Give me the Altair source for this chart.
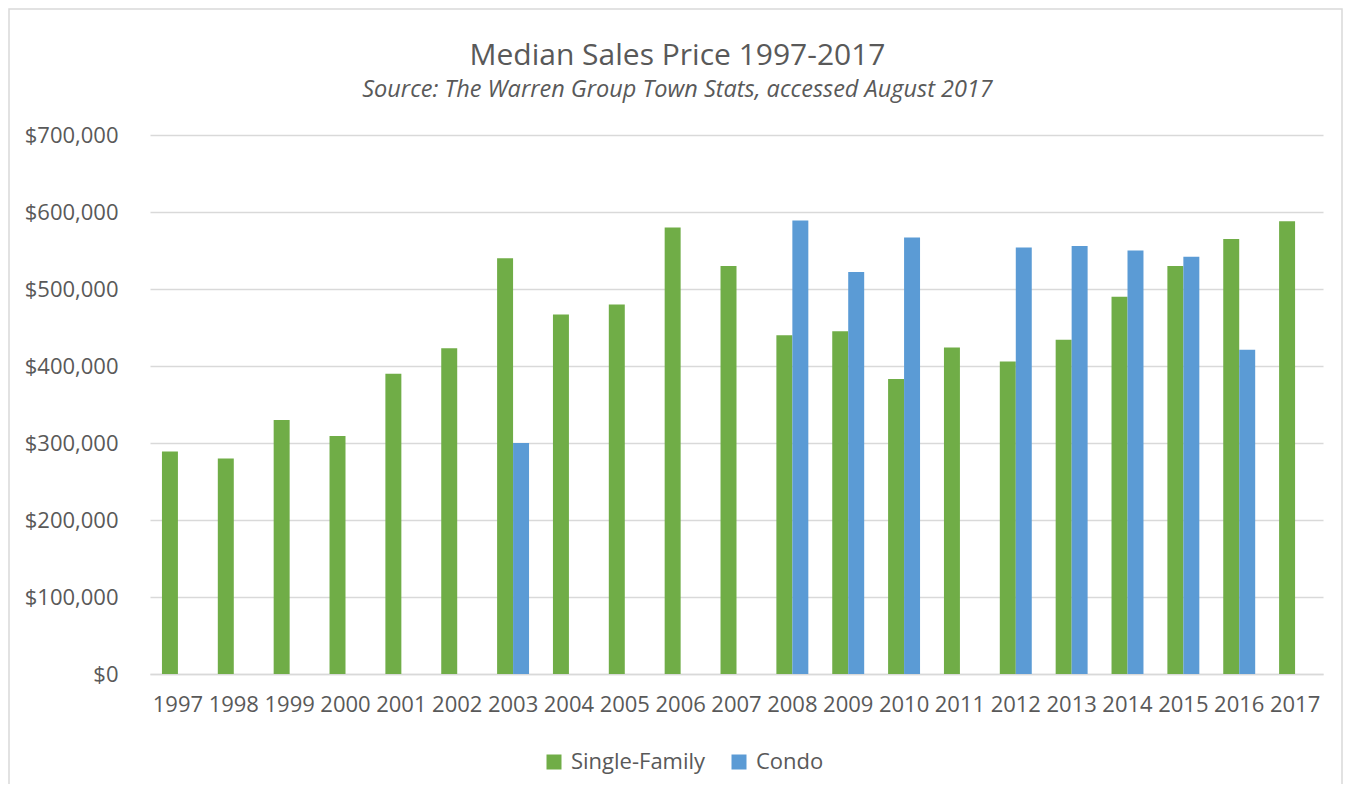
import altair as alt
import pandas as pd

years = [str(y) for y in range(1997, 2018)]
single_family = [289000, 280000, 330000, 309000, 390000, 423000, 540000, 467000,
                 480000, 580000, 530000, 440000, 445000, 383000, 424000, 406000,
                 434000, 490000, 530000, 565000, 588000]
condo = [None, None, None, None, None, None, 300000, None, None, None, None,
         589000, 522000, 567000, None, 554000, 556000, 550000, 542000, 421000, None]
series = ["Single-Family", "Condo"]
colors = ["#70AD47", "#5B9BD5"]
y_ticks = [0, 100000, 200000, 300000, 400000, 500000, 600000, 700000]

rows = []
for yr, sf, cd in zip(years, single_family, condo):
    if sf is not None:
        rows.append({"Year": yr, "Series": "Single-Family", "Price": sf})
    if cd is not None:
        rows.append({"Year": yr, "Series": "Condo", "Price": cd})
df = pd.DataFrame(rows)

W, H = 1173, 539
TXT = "#595959"
FONT = "Open Sans"

bars = alt.Chart(df).mark_bar(strokeWidth=0).encode(
    x=alt.X("Year:N", sort=years,
            scale=alt.Scale(domain=years, paddingInner=0.428, paddingOuter=0.214),
            axis=alt.Axis(title=None, labelAngle=0, ticks=False, domainColor="#D9D9D9",
                          domainWidth=1.5, labelPadding=20, labelFontSize=22,
                          labelColor=TXT, labelFont=FONT)),
    xOffset=alt.XOffset("Series:N", sort=series,
                        scale=alt.Scale(domain=series, paddingInner=0, paddingOuter=0)),
    y=alt.Y("Price:Q", scale=alt.Scale(domain=[0, 700000], nice=False),
            axis=alt.Axis(title=None, values=y_ticks, format="$,.0f", grid=True,
                          gridColor="#D9D9D9", gridWidth=1.5, domain=False, ticks=False,
                          labelPadding=32, labelFontSize=22, labelColor=TXT,
                          labelFont=FONT)),
    color=alt.Color("Series:N", sort=series,
                    scale=alt.Scale(domain=series, range=colors),
                    legend=alt.Legend(orient="none", legendX=393, legendY=616,
                                      direction="horizontal", title=None,
                                      symbolType="square", symbolSize=225,
                                      symbolStrokeWidth=0, labelFontSize=22,
                                      labelColor=TXT, labelFont=FONT, labelOffset=6,
                                      columnPadding=22, padding=0)),
)

border = alt.Chart(alt.Data(values=[{"a": 1}])).mark_rect(
    fill=None, stroke="#D9D9D9", strokeWidth=1.5
).encode(
    x=alt.value(-141), x2=alt.value(W + 19), y=alt.value(-126), y2=alt.value(H + 200)
)

chart = alt.layer(bars, border).properties(
    width=W, height=H,
    autosize="none",
    padding={"left": 142, "top": 127, "right": 20, "bottom": 110},
    title=alt.TitleParams(
        text="Median Sales Price 1997-2017",
        subtitle="Source: The Warren Group Town Stats, accessed August 2017",
        fontSize=30, fontWeight="normal", color=TXT, font=FONT,
        subtitleFontSize=23.5, subtitleFontStyle="italic", subtitleColor=TXT,
        subtitleFont=FONT, subtitlePadding=7,
        anchor="middle", frame="group", dx=-59, offset=-93,
    ),
).configure_view(stroke=None)

chart.save("out.html", embed_options={"renderer": "svg", "actions": False})
